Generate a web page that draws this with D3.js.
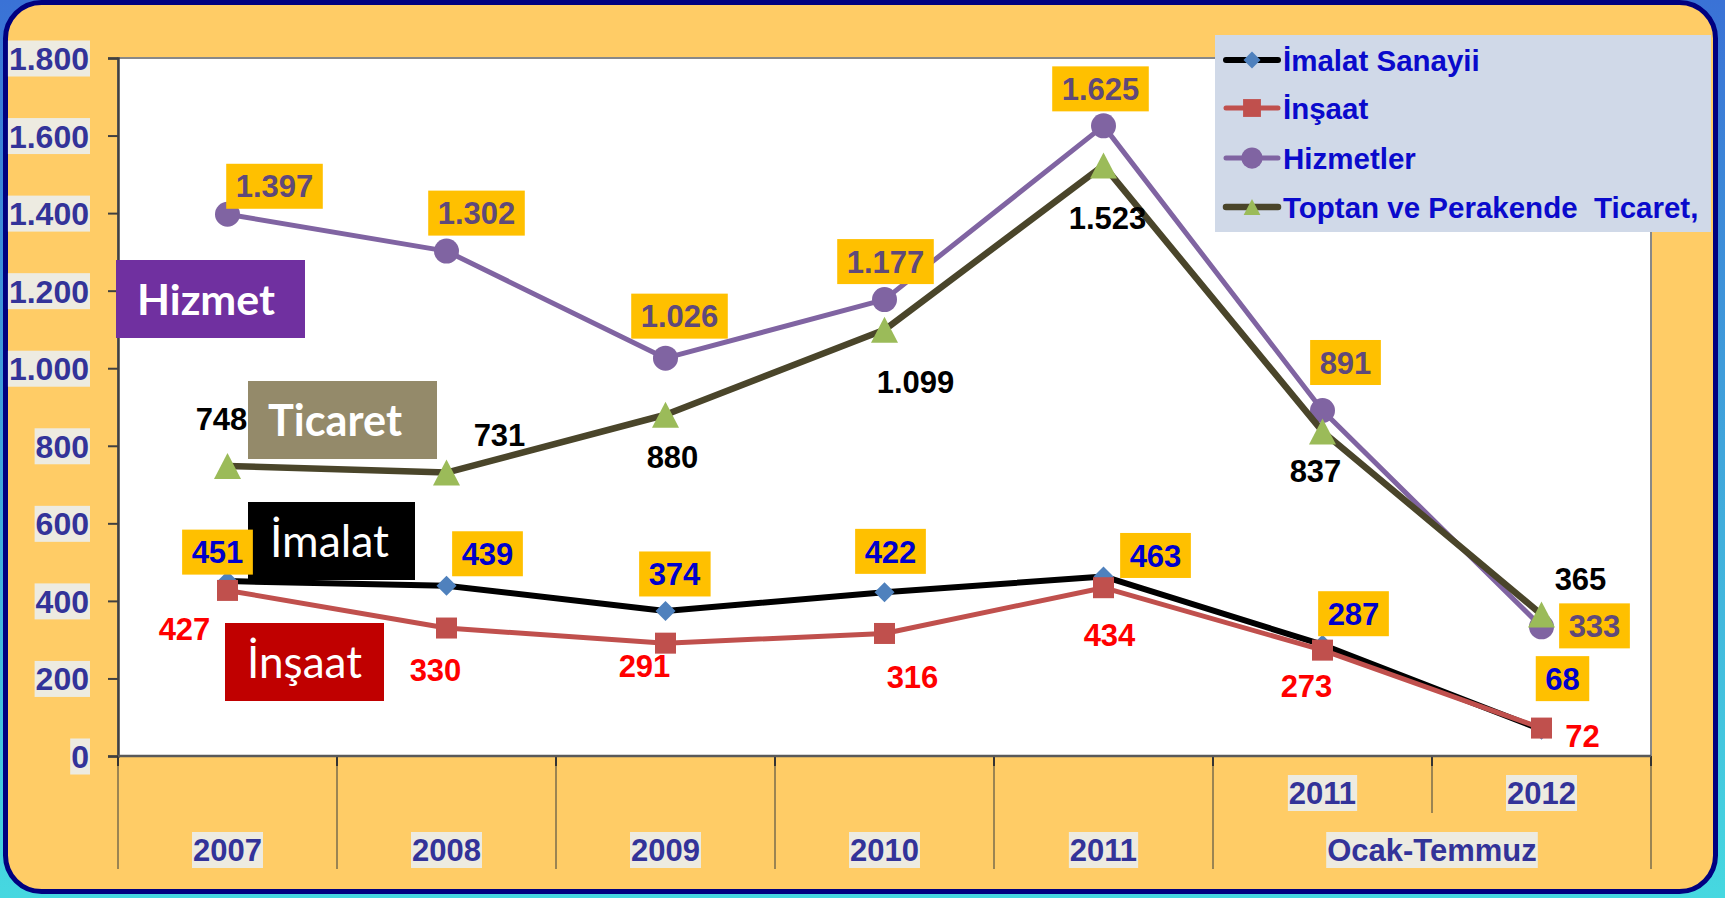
<!DOCTYPE html>
<html>
<head>
<meta charset="utf-8">
<script src="https://cdn.jsdelivr.net/npm/d3@7"></script>
<style>
  body { margin: 0; background: #ffffff; overflow: hidden; }
  svg text { font-family: "Liberation Sans", Arial, sans-serif; font-weight: bold; }
</style>
</head>
<body>
<svg id="chart" width="1725" height="898"></svg>
<script>
// # DATA
// # ------------------------------
var periods     = ["2007", "2008", "2009", "2010", "2011", "2011 OT", "2012 OT"];
var year_labels = ["2007", "2008", "2009", "2010", "2011", "2011", "2012"];
var group_label = "Ocak-Temmuz";   // spans the last two periods
var y_ticks     = [0, 200, 400, 600, 800, 1000, 1200, 1400, 1600, 1800];

var imalat    = [451, 439, 374, 422, 463, 287, 68];
var insaat    = [427, 330, 291, 316, 434, 273, 72];
var hizmetler = [1397, 1302, 1026, 1177, 1625, 891, 333];
var ticaret   = [748, 731, 880, 1099, 1523, 837, 365];

var legend_names = ["İmalat Sanayii", "İnşaat", "Hizmetler", "Toptan ve Perakende  Ticaret,"];

// # LABEL OFFSETS (px from the point, label centre)
// # ------------------------------
var imalat_off    = [[-10,-29],[41,-32],[9,-37],[6,-41],[52,-21],[31,-31],[21,-51]];
var insaat_off    = [[-43,38],[-11,42],[-21,23],[28,43],[6,47],[-16,36],[41,8]];
var hizmetler_off = [[47,-28],[30,-38],[14,-42],[1,-38],[-3,-37],[23,-48],[53,-1]];
var ticaret_off   = [[-6,-47],[53,-38],[7,42],[31,52],[4,52],[-7,39],[39,-36]];

// # MISC
// # ------------------------------
var tr_locale  = d3.formatLocale({decimal: ",", thousands: ".", grouping: [3], currency: ["", " TL"]});
var format_num = tr_locale.format(",d");

var svg = d3.select("#chart");
var W = 1725, H = 898;
var plot = {left: 118, right: 1651, top: 58, bottom: 756};

var x = d3.scaleBand().domain(periods).range([plot.left, plot.right]).padding(0);
var y = d3.scaleLinear().domain([0, 1800]).range([plot.bottom, plot.top]);
var cx = function(i) { return x(periods[i]) + x.bandwidth() / 2; };

var series = [
  {name: legend_names[0], values: imalat,    off: imalat_off,    line: "#000000", mark: "#4F81BD", shape: "diamond", width: 6,
   label: {fill: "#0000CC", box: "#FFC000"}},
  {name: legend_names[1], values: insaat,    off: insaat_off,    line: "#C0504D", mark: "#C0504D", shape: "square",  width: 5,
   label: {fill: "#FF0000", box: null}},
  {name: legend_names[2], values: hizmetler, off: hizmetler_off, line: "#8064A2", mark: "#8064A2", shape: "circle",  width: 5,
   label: {fill: "#5F497A", box: "#FFC000"}},
  {name: legend_names[3], values: ticaret,   off: ticaret_off,   line: "#4A452A", mark: "#9BBB59", shape: "triangle", width: 6.5,
   label: {fill: "#000000", box: null}}
];

var annotations = [
  {text: "Hizmet",  fill: "#7030A0", x: 116, y: 260, w: 189, h: 78, tx: 137, ty: 315, tw: 138, weight: "bold"},
  {text: "Ticaret", fill: "#948A6A", x: 248, y: 381, w: 189, h: 78, tx: 268, ty: 436, tw: 134, weight: "bold"},
  {text: "İmalat",  fill: "#000000", x: 248, y: 502, w: 167, h: 78, tx: 270, ty: 557, tw: 119, weight: "normal"},
  {text: "İnşaat",  fill: "#C00000", x: 225, y: 623, w: 159, h: 78, tx: 247, ty: 678, tw: 115, weight: "normal"}
];

// ## marker_path
// # ------------------------------
var marker_path = function(shape) {
  if (shape == "diamond")  return "M0,-10L10,0L0,10L-10,0Z";
  if (shape == "square")   return "M-10.5,-10.5H10.5V10.5H-10.5Z";
  if (shape == "triangle") return "M0,-13L13.5,13L-13.5,13Z";
  return d3.arc()({innerRadius: 0, outerRadius: 12.5, startAngle: 0, endAngle: 2 * Math.PI});
};

// # BACKGROUND + FRAME
// # ------------------------------
var defs = svg.append("defs");
var grad = defs.append("linearGradient").attr("id", "bg_grad")
    .attr("x1", "0%").attr("y1", "0%").attr("x2", "0%").attr("y2", "100%");
grad.append("stop").attr("offset", "0%").attr("stop-color", "#3A72D6");
grad.append("stop").attr("offset", "100%").attr("stop-color", "#46D8E0");

svg.append("rect").attr("width", W).attr("height", H).attr("fill", "url(#bg_grad)");
svg.append("rect")
    .attr("x", 5.5).attr("y", 2.5).attr("width", 1710).attr("height", 889)
    .attr("rx", 36).attr("ry", 36)
    .attr("fill", "#FFCC66").attr("stroke", "#000080").attr("stroke-width", 5);

// # PLOT AREA
// # ------------------------------
svg.append("rect")
    .attr("x", plot.left).attr("y", plot.top)
    .attr("width", plot.right - plot.left).attr("height", plot.bottom - plot.top)
    .attr("fill", "#ffffff").attr("stroke", "#888888").attr("stroke-width", 2);

// ## y axis
var y_axis = svg.append("g")
    .attr("transform", "translate(" + plot.left + ",0)")
    .call(d3.axisLeft(y).tickValues(y_ticks).tickSize(10).tickFormat(format_num));
y_axis.select(".domain").attr("stroke", "#404040").attr("stroke-width", 2.5);
y_axis.selectAll(".tick line").attr("stroke", "#404040").attr("stroke-width", 2);
y_axis.selectAll(".tick text")
    .attr("x", -29).attr("dy", "0.36em")
    .style("font-size", "32px").attr("fill", "#333399");
y_axis.selectAll(".tick").each(function() {
  var t  = d3.select(this).select("text");
  var bb = t.node().getBBox();
  d3.select(this).insert("rect", "text")
      .attr("x", bb.x - 1).attr("y", -18).attr("width", bb.width + 2).attr("height", 36)
      .attr("fill", "#EDEBE1");
});

// ## x axis (bands + dividers)
var x_axis = svg.append("g");
var bounds = d3.range(periods.length + 1).map(function(k) { return plot.left + k * x.bandwidth(); });
x_axis.selectAll(".divider").data(bounds).enter().append("line")
    .attr("x1", function(d) { return d; }).attr("x2", function(d) { return d; })
    .attr("y1", plot.bottom)
    .attr("y2", function(d, k) { return k == 6 ? 813 : 869; })
    .attr("stroke", "#7A6C4C").attr("stroke-width", 1.5);
x_axis.selectAll(".xtick").data(bounds).enter().append("line")
    .attr("x1", function(d) { return d; }).attr("x2", function(d) { return d; })
    .attr("y1", plot.bottom).attr("y2", plot.bottom + 10)
    .attr("stroke", "#333333").attr("stroke-width", 2);
x_axis.append("line")
    .attr("x1", plot.left).attr("x2", plot.right).attr("y1", plot.bottom).attr("y2", plot.bottom)
    .attr("stroke", "#595959").attr("stroke-width", 2.5);

var boxed_text = function(parent, txt, px, py, size, color, bg, pad, bh) {
  var g = parent.append("g");
  var t = g.append("text")
      .attr("x", px).attr("y", py).attr("dy", "0.36em")
      .attr("text-anchor", "middle")
      .style("font-size", size + "px").attr("fill", color)
      .text(txt);
  if (bg) {
    var bb = t.node().getBBox();
    g.insert("rect", "text")
        .attr("x", bb.x - pad).attr("y", py - bh / 2)
        .attr("width", bb.width + 2 * pad).attr("height", bh)
        .attr("fill", bg);
  }
  return g;
};

year_labels.forEach(function(lbl, i) {
  var row_y = i >= 5 ? 793 : 850;
  boxed_text(x_axis, lbl, cx(i), row_y, 31, "#333399", "#EDEBE1", 1, 36);
});
boxed_text(x_axis, group_label, (cx(5) + cx(6)) / 2, 850, 31, "#333399", "#EDEBE1", 1, 36);

// # LINES + MARKERS
// # ------------------------------
var line_gen = d3.line()
    .x(function(d, i) { return cx(i); })
    .y(function(d) { return y(d); });

series.forEach(function(s) {
  var g = svg.append("g").attr("class", "series");
  g.append("path")
      .attr("d", line_gen(s.values))
      .attr("fill", "none").attr("stroke", s.line)
      .attr("stroke-width", s.width).attr("stroke-linejoin", "round");
  g.selectAll(".mark").data(s.values).enter().append("path")
      .attr("transform", function(d, i) { return "translate(" + cx(i) + "," + y(d) + ")"; })
      .attr("d", marker_path(s.shape))
      .attr("fill", s.mark);
});

// # ANNOTATION BOXES
// # ------------------------------
annotations.forEach(function(a) {
  svg.append("rect")
      .attr("x", a.x).attr("y", a.y).attr("width", a.w).attr("height", a.h)
      .attr("fill", a.fill);
  var t = svg.append("text")
      .attr("x", a.tx).attr("y", a.ty)
      .style("font-family", "Lato, 'Open Sans', sans-serif")
      .style("font-weight", a.weight)
      .style("font-size", "40px")
      .attr("fill", "#ffffff")
      .text(a.text);
  var len = t.node().getComputedTextLength();
  t.style("font-size", (40 * a.tw / len) + "px");
});

// # DATA LABELS
// # ------------------------------
var labels = svg.append("g");
series.forEach(function(s) {
  s.values.forEach(function(v, i) {
    boxed_text(labels, format_num(v), cx(i) + s.off[i][0], y(v) + s.off[i][1],
               31, s.label.fill, s.label.box, 9.5, 45);
  });
});

// # LEGEND
// # ------------------------------
var legend = svg.append("g");
legend.append("rect")
    .attr("x", 1215).attr("y", 35).attr("width", 496).attr("height", 197)
    .attr("fill", "#D0D9E8");
var legend_rows = [60, 108, 158, 207];
series.forEach(function(s, i) {
  var ly = legend_rows[i];
  legend.append("line")
      .attr("x1", 1226).attr("x2", 1278).attr("y1", ly).attr("y2", ly)
      .attr("stroke", s.line).attr("stroke-width", s.width).attr("stroke-linecap", "round");
  legend.append("path")
      .attr("transform", "translate(1252," + ly + ")" + (s.shape == "triangle" ? " scale(0.62)" : " scale(0.85)"))
      .attr("d", marker_path(s.shape))
      .attr("fill", s.mark);
  legend.append("text")
      .attr("x", 1283).attr("y", ly).attr("dy", "0.36em")
      .style("font-size", "29.5px").style("white-space", "pre")
      .attr("fill", "#0A0ACC")
      .text(s.name);
});
</script>
</body>
</html>
